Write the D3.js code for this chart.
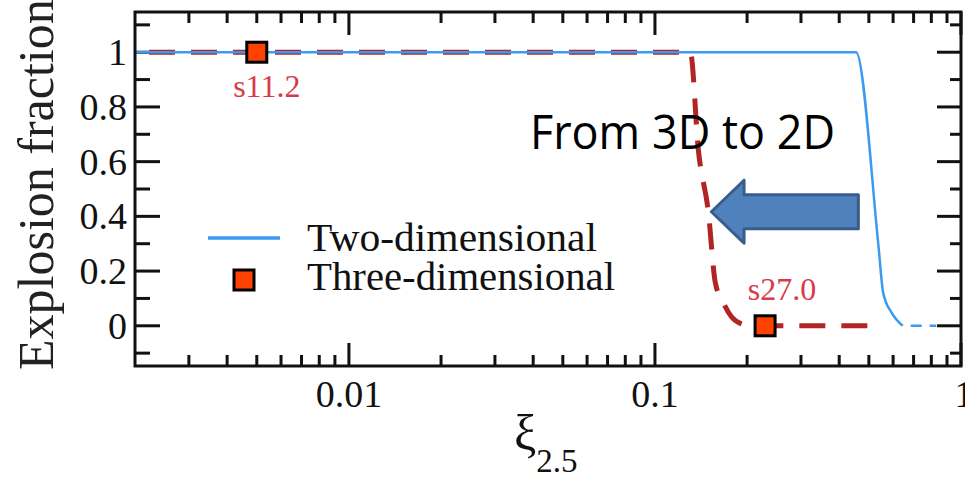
<!DOCTYPE html>
<html>
<head>
<meta charset="utf-8">
<script src="https://cdn.jsdelivr.net/npm/d3@7"></script>
<style>
  html, body { margin: 0; padding: 0; background: #fff; overflow: hidden; }
  svg { display: block; }
  .serif { font-family: "Liberation Serif", "DejaVu Serif", serif; }
</style>
</head>
<body>
<svg id="chart" width="965" height="481"></svg>
<script>
// ---- data ----
const xTickValues = [0.01, 0.1, 1];
const xTickLabels = ["0.01", "0.1", "1"];
const yTickValues = [0, 0.2, 0.4, 0.6, 0.8, 1];
const yTickLabels = ["0", "0.2", "0.4", "0.6", "0.8", "1"];

// two-dimensional runs: explosion fraction vs compactness
const twoDXi   = [0.002, 0.454, 0.537, 0.557, 0.594, 0.645];
const twoDFrac = [1, 1, 0.296, 0.12, 0.047, 0];
// tail where no 2D model explodes
const twoDTailXi   = [0.645, 0.83];
const twoDTailFrac = [0, 0];

// three-dimensional fit (dashed)
const threeDXi   = [0.002, 0.1305, 0.1386, 0.1494, 0.1575, 0.1673, 0.1778, 0.1916, 0.205, 0.545];
const threeDFrac = [1, 1, 0.643, 0.417, 0.157, 0.084, 0.033, 0.007, 0, 0];

// three-dimensional models
const modelXi    = [0.005, 0.229];
const modelFrac  = [1, 0];
const modelNames = ["s11.2", "s27.0"];

// ---- layout ----
const svg = d3.select("#chart");
const x = d3.scaleLog().domain([0.002, 1]).range([135, 961]);
const y = d3.scaleLinear().domain([-0.147, 1.147]).range([366, 12]);

const ink = "#111";
const red = "#b22525";
const blue = "#3a9af2";

// minor ticks
const minorX = [];
for (let d = 0.001; d < 1; d *= 10) for (let k = 1; k <= 9; k++) {
  const v = d * k; if (v > 0.002 && v < 1 && k !== 1) minorX.push(+v.toPrecision(3));
}
const minorY = d3.range(-0.1, 1.11, 0.1).map(v => +v.toFixed(1)).filter(v => Math.abs(v * 5 - Math.round(v * 5)) > 1e-6);

// axes (ticks pointing into the plot)
const g = svg.append("g");
const [x0, x1] = x.range(), [yB, yT] = y.range();

const tickG = g.append("g").attr("stroke", ink).attr("stroke-width", 3);
// bottom & top
xTickValues.forEach(v => {
  tickG.append("line").attr("x1", x(v)).attr("x2", x(v)).attr("y1", yB).attr("y2", yB - 23);
  tickG.append("line").attr("x1", x(v)).attr("x2", x(v)).attr("y1", yT).attr("y2", yT + 23);
});
minorX.forEach(v => {
  tickG.append("line").attr("x1", x(v)).attr("x2", x(v)).attr("y1", yB).attr("y2", yB - 11);
  tickG.append("line").attr("x1", x(v)).attr("x2", x(v)).attr("y1", yT).attr("y2", yT + 11);
});
// left & right
yTickValues.forEach(v => {
  tickG.append("line").attr("y1", y(v)).attr("y2", y(v)).attr("x1", x0).attr("x2", x0 + 25);
  tickG.append("line").attr("y1", y(v)).attr("y2", y(v)).attr("x1", x1).attr("x2", x1 - 24);
});
minorY.forEach(v => {
  tickG.append("line").attr("y1", y(v)).attr("y2", y(v)).attr("x1", x0).attr("x2", x0 + 15);
  tickG.append("line").attr("y1", y(v)).attr("y2", y(v)).attr("x1", x1).attr("x2", x1 - 11);
});

// tick labels
g.append("g").attr("class", "serif").attr("font-size", 38).attr("fill", ink)
  .selectAll("text").data(xTickValues).join("text")
  .attr("x", d => x(d) + (d === 1 ? 3 : 0)).attr("y", 407)
  .attr("text-anchor", "middle").text((d, i) => xTickLabels[i]);
g.append("g").attr("class", "serif").attr("font-size", 38).attr("fill", ink)
  .selectAll("text").data(yTickValues).join("text")
  .attr("x", 127).attr("y", d => y(d) + 13)
  .attr("text-anchor", "end").text((d, i) => yTickLabels[i]);

// axis titles
svg.append("text").attr("class", "serif").attr("font-size", 50).attr("fill", "#222")
  .attr("transform", "translate(53,370) rotate(-90)").text("Explosion fraction");
const xt = svg.append("text").attr("class", "serif").attr("fill", ink).attr("x", 514).attr("y", 450);
xt.append("tspan").attr("font-size", 50).text("ξ");
xt.append("tspan").attr("font-size", 33).attr("dy", 22).text("2.5");

// ---- series ----
const line = d3.line().x(d => x(d[0])).y(d => y(d[1]));
const zip = (a, b) => a.map((v, i) => [v, b[i]]);

svg.append("path").attr("d", line.curve(d3.curveMonotoneX)(zip(threeDXi, threeDFrac)))
  .attr("fill", "none").attr("stroke", red).attr("stroke-width", 5)
  .attr("stroke-dasharray", "26 16").attr("stroke-dashoffset", -14);

svg.append("path").attr("d", line.curve(d3.curveMonotoneX)(zip(twoDXi, twoDFrac)))
  .attr("fill", "none").attr("stroke", blue).attr("stroke-width", 2.5);
svg.append("path").attr("d", line.curve(d3.curveLinear)(zip(twoDTailXi, twoDTailFrac)))
  .attr("fill", "none").attr("stroke", blue).attr("stroke-width", 2.5)
  .attr("stroke-dasharray", "11 8").attr("stroke-dashoffset", -8);

// model markers and names
svg.append("g").selectAll("rect").data(modelXi).join("rect")
  .attr("x", d => x(d) - 10).attr("y", (d, i) => y(modelFrac[i]) - 10)
  .attr("width", 20).attr("height", 20)
  .attr("fill", "#ff4200").attr("stroke", "#000").attr("stroke-width", 3);
svg.append("g").attr("class", "serif").attr("font-size", 32).attr("fill", "#d83a4a")
  .selectAll("text").data(modelXi).join("text")
  .attr("x", (d, i) => x(d) + (i === 0 ? 10 : 17))
  .attr("y", (d, i) => i === 0 ? y(modelFrac[i]) + 45 : y(modelFrac[i]) - 26)
  .attr("text-anchor", "middle").text((d, i) => modelNames[i]);

// legend
const leg = svg.append("g").attr("class", "serif").attr("font-size", 39).attr("fill", ink);
leg.append("line").attr("x1", 208).attr("x2", 280).attr("y1", 238).attr("y2", 238)
  .attr("stroke", blue).attr("stroke-width", 3.5);
leg.append("text").attr("x", 307).attr("y", 251).attr("textLength", 290).attr("lengthAdjust", "spacingAndGlyphs").text("Two-dimensional");
leg.append("rect").attr("x", 234).attr("y", 270).attr("width", 20).attr("height", 20)
  .attr("fill", "#ff4200").attr("stroke", "#000").attr("stroke-width", 3);
leg.append("text").attr("x", 307).attr("y", 290).attr("textLength", 308).attr("lengthAdjust", "spacingAndGlyphs").text("Three-dimensional");

// annotation: block arrow pointing from the 2D to the 3D transition
const arrowY = y(0.417);
const tipX = x(0.1529), headX = x(0.1955), tailX = x(0.462);
const shaftH = 17, headH = 31.5;
const arrow = d3.path();
arrow.moveTo(tipX, arrowY);
arrow.lineTo(headX, arrowY - headH);
arrow.lineTo(headX, arrowY - shaftH);
arrow.lineTo(tailX, arrowY - shaftH);
arrow.lineTo(tailX, arrowY + shaftH);
arrow.lineTo(headX, arrowY + shaftH);
arrow.lineTo(headX, arrowY + headH);
arrow.closePath();
svg.append("path").attr("d", arrow.toString())
  .attr("fill", "#4f81bd").attr("stroke", "#385d8a").attr("stroke-width", 3)
  .attr("stroke-linejoin", "round");

svg.append("text").attr("x", 530).attr("y", 149)
  .attr("font-family", "'Open Sans', 'Noto Sans', sans-serif").attr("font-size", 47)
  .attr("textLength", 305).attr("lengthAdjust", "spacingAndGlyphs")
  .attr("fill", "#000").text("From 3D to 2D");

// frame
svg.append("rect").attr("x", x0).attr("y", yT).attr("width", x1 - x0).attr("height", yB - yT)
  .attr("fill", "none").attr("stroke", ink).attr("stroke-width", 3);
</script>
</body>
</html>
